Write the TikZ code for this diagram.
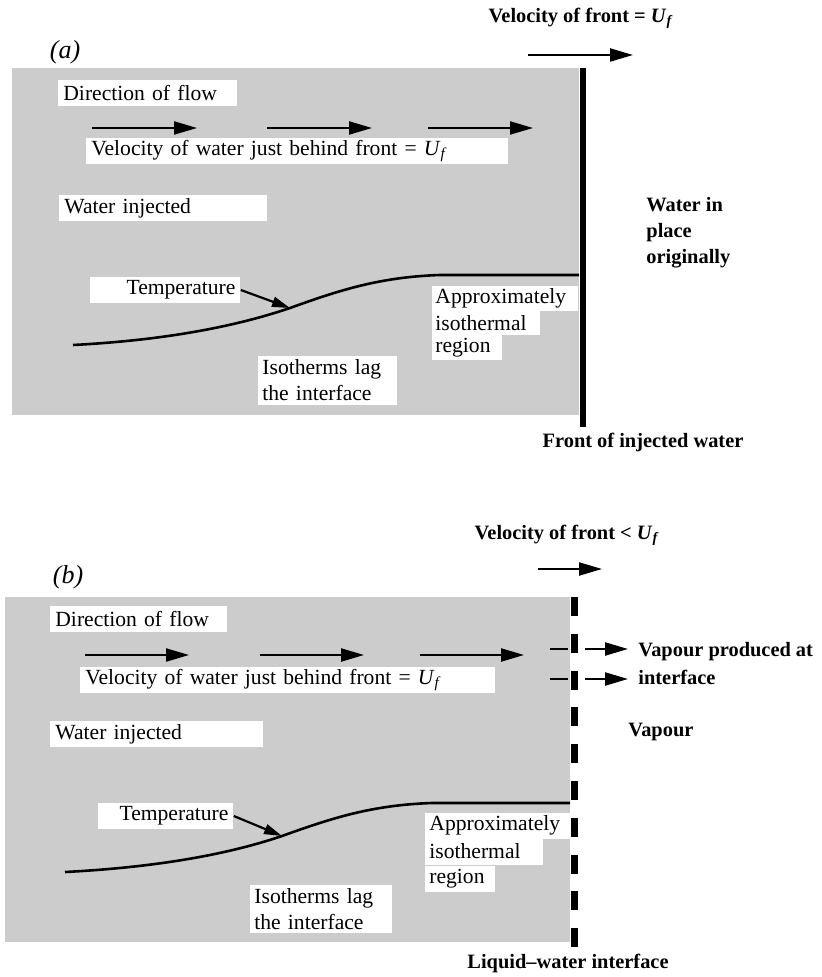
\documentclass[tikz,border=0pt]{standalone}
\usepackage{fontspec}
\setmainfont{Liberation Serif}
\usepackage{tikz}
\usetikzlibrary{arrows.meta}
\newcommand{\lblfont}{\fontsize{10.8pt}{13pt}\selectfont}
\newcommand{\sidefont}{\bfseries\fontsize{10.2pt}{13pt}\selectfont}
\newcommand{\Uf}{\textit{U}\textsubscript{\textit{f}}}
\begin{document}
\begin{tikzpicture}[x=0.5pt,y=-0.5pt,
		paper/.style={fill=white,anchor=west,inner xsep=2.5pt,inner ysep=0pt,minimum height=13pt,font=\lblfont,align=left},
		side/.style={font=\sidefont,inner sep=0pt},
		flow/.style={line width=1.1pt,-{Triangle[length=11.5pt,width=6.5pt]}},
		tarrow/.style={line width=1.1pt,-{Triangle[length=9pt,width=5pt]}},
		tcurve/.style={line width=1.3pt},
		front/.style={line width=3pt},
		iface/.style={line width=3.7pt,dash pattern=on 9.5pt off 8.9pt}]
	\useasboundingbox (0,0) rectangle (821,977);
	
	% (a)
	
	\node[font=\fontsize{13pt}{15pt}\selectfont\itshape] (labA) at (65,52) {(a)};
	\node[side] (topA) at (581,18) {Velocity of front = \Uf};
	\draw[flow] (528,55) -- ++(105,0);
	\fill[black!20] (12,68) rectangle (579,415);
	\draw[front] (583,68) -- (583,427);
	\node[paper,text width=84.5pt] (dirA) at (58,93) {Direction of flow};
	\foreach \x in {92,267,428} {
		\draw[flow] (\x,128) -- ++(105,0);
	}
	\node[paper,text width=206pt] (velA) at (86,151) {Velocity of water just behind front = \Uf};
	\node[paper,text width=99pt] (injA) at (59,208) {Water injected};
	\coordinate (tipA) at (290,308);
	\draw[tcurve] (73,345) .. controls (170,340) and (240,325) .. (tipA)
		.. controls (340,290) and (380,277) .. (440,275) -- (579,275);
	\node[paper,text width=70pt,align=right] (tempA) at (90,290) {Temperature};
	\draw[tarrow] (tempA.east) -- (tipA);
	\node[paper,inner xsep=1.5pt,text width=70pt,minimum height=12.25pt] (isoA1) at (432,298.5) {Approximately};
	\node[paper,inner xsep=1.5pt,text width=51pt,minimum height=12.25pt] (isoA2) at (432,323) {isothermal};
	\node[paper,inner xsep=1.5pt,text width=32pt,minimum height=12.25pt] (isoA3) at (432,347.5) {region};
	\node[paper,inner xsep=2pt,inner ysep=2pt,text width=65.5pt] (lagA) at (258,380.5) {Isotherms lag\\the interface};
	\node[side,anchor=west,align=left] (origA) at (646,233) {Water in\\place\\originally};
	\node[side] (frontA) at (643,442) {Front of injected water};
	
	% (b)
	
	\node[font=\fontsize{13pt}{15pt}\selectfont\itshape] (labB) at (68,577) {(b)};
	\node[side] (topB) at (567,535) {Velocity of front < \Uf};
	\draw[flow] (538,569) -- ++(64,0);
	\fill[black!20] (5,597) rectangle (570,942);
	\draw[iface] (574.5,597) -- (574.5,947);
	\node[paper,text width=83.5pt] (dirB) at (50,618.5) {Direction of flow};
	\foreach \x in {85,260,420} {
		\draw[flow] (\x,655) -- ++(104,0);
	}
	\node[paper,text width=202.5pt] (velB) at (80,680) {Velocity of water just behind front = \Uf};
	\node[paper,text width=101.5pt] (injB) at (50,734) {Water injected};
	\coordinate (tipB) at (282,836);
	\draw[tcurve] (65,872) .. controls (162,867) and (232,853) .. (tipB)
		.. controls (332,818) and (372,805) .. (432,803) -- (570,803);
	\node[paper,text width=62.5pt,align=right] (tempB) at (98,816) {Temperature};
	\draw[tarrow] (tempB.east) -- (tipB);
	\node[paper,inner xsep=2pt,text width=68.5pt] (isoB1) at (425,825.5) {Approximately};
	\node[paper,inner xsep=2pt,text width=55pt] (isoB2) at (425,851.5) {isothermal};
	\node[paper,inner xsep=2pt,text width=31pt] (isoB3) at (425,878.5) {region};
	\node[paper,inner xsep=2pt,inner ysep=1.5pt,text width=67pt] (lagB) at (250,909) {Isotherms lag\\the interface};
	\foreach \y in {649,679} {
		\draw[line width=1pt] (550,\y) -- (568,\y);
		\draw[flow] (585,\y) -- (628,\y);
	}
	\node[side,anchor=west,align=left,font=\bfseries\fontsize{10.2pt}{14pt}\selectfont] (vapB) at (638,664) {Vapour produced at\\interface};
	\node[side,anchor=west] (vapourB) at (628,732) {Vapour};
	\node[side] (liqB) at (568,963) {Liquid--water interface};
\end{tikzpicture}
\end{document}
